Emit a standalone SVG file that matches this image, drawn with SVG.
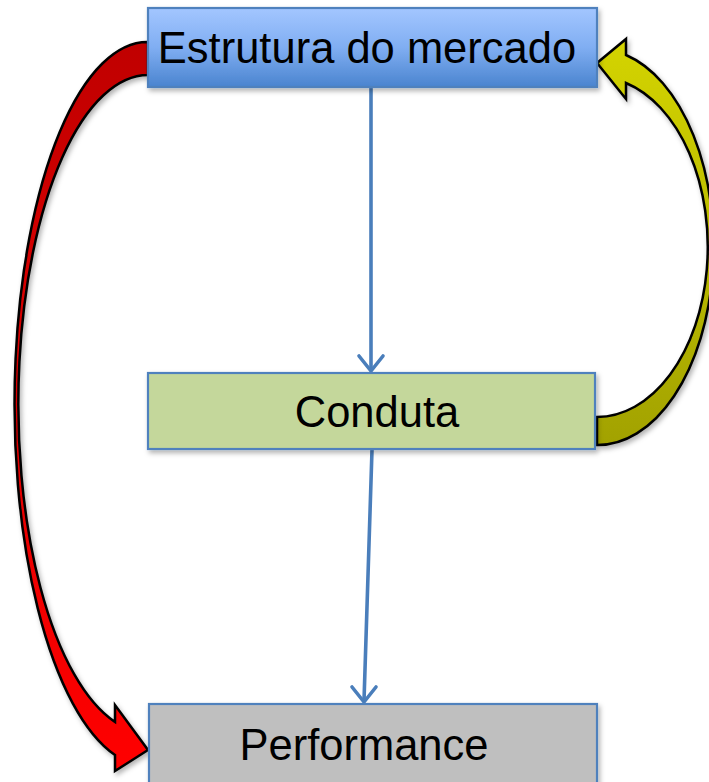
<svg xmlns="http://www.w3.org/2000/svg" width="709" height="782" viewBox="0 0 709 782">
<defs>
<linearGradient id="gBlue" x1="0" y1="0" x2="0" y2="1">
<stop offset="0" stop-color="#a3c6ff"/>
<stop offset="0.5" stop-color="#80aef2"/>
<stop offset="1" stop-color="#4a84cf"/>
</linearGradient>
<linearGradient id="gRed" x1="0" y1="0" x2="0" y2="1">
<stop offset="0" stop-color="#c00000"/>
<stop offset="1" stop-color="#ff0000"/>
</linearGradient>
<linearGradient id="gYel" x1="0" y1="0" x2="0" y2="1">
<stop offset="0" stop-color="#d4d400"/>
<stop offset="1" stop-color="#a2a200"/>
</linearGradient>
<filter id="sh" x="-10%" y="-10%" width="130%" height="140%">
<feDropShadow dx="2" dy="3" stdDeviation="2.5" flood-color="#000" flood-opacity="0.3"/>
</filter>
<style>
.box{stroke:#4f81bd;stroke-width:2.2;filter:url(#sh)}
.lbl{font-family:"Liberation Sans",Arial,sans-serif;font-size:43.5px;fill:#000;text-anchor:middle}
.conn{stroke:#4a7ebb;stroke-width:3.6;fill:none;stroke-linecap:round;stroke-linejoin:round}
.curve{stroke:#000;stroke-width:2.5;stroke-linejoin:miter;filter:url(#sh)}
</style>
</defs>
<rect width="709" height="782" fill="#fff"/>
<g id="connectors">
<path class="curve" fill="url(#gRed)" d="M148,42 A133,362 0 0 0 115,755 L115,771 L148,750 L115,705 L115,722 A130,329 0 0 1 148,75 Z"/>
<path class="curve" fill="url(#gYel)" d="M597,445 A116,198 0 0 0 626,55 L626,39 L597,63 L626,99 L626,83 A111,170 0 0 1 597,417 Z"/>
<line class="conn" x1="371" y1="87" x2="371" y2="370"/>
<path class="conn" d="M359,356 L371,371 L383,356"/>
<line class="conn" x1="372" y1="450" x2="364" y2="701"/>
<path class="conn" d="M352,687 L364,702 L376,687"/>
</g>
<g id="estrutura">
<rect class="box" x="148" y="8" width="449" height="79" fill="url(#gBlue)"/>
<text class="lbl" x="367" y="63">Estrutura do mercado</text>
</g>
<g id="conduta">
<rect class="box" x="148" y="373" width="447" height="76" fill="#c4d79b"/>
<text class="lbl" x="377" y="427">Conduta</text>
</g>
<g id="performance">
<rect class="box" x="149" y="704" width="448" height="90" fill="#bfbfbf"/>
<text class="lbl" x="364" y="760">Performance</text>
</g>
</svg>
